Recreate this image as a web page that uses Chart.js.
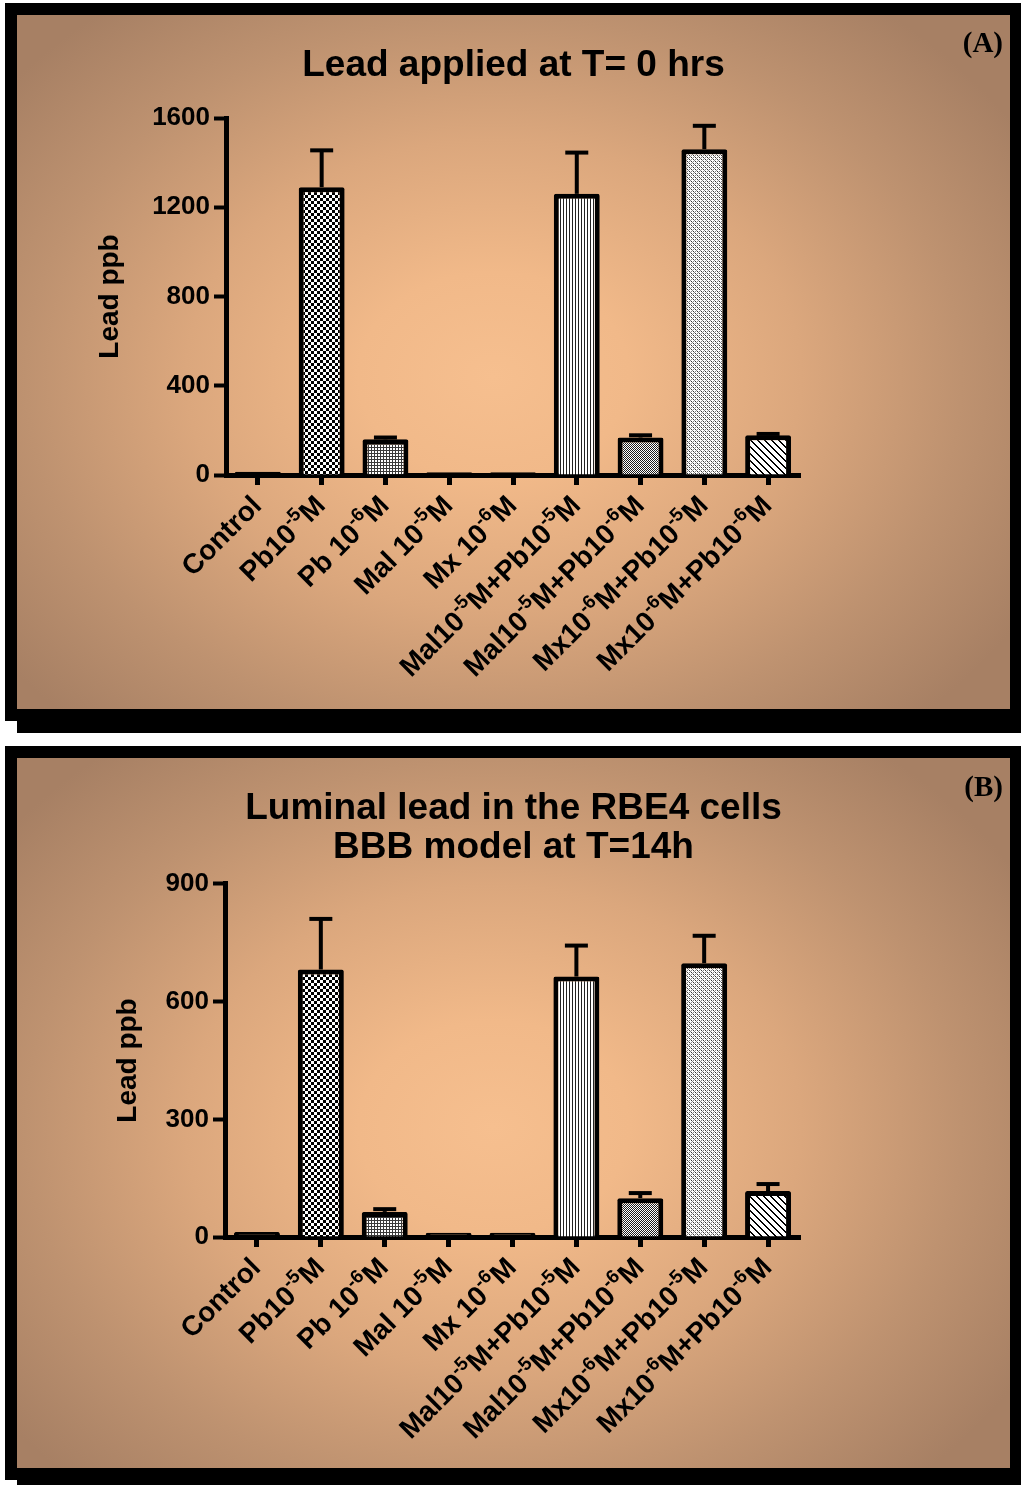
<!DOCTYPE html>
<html>
<head>
<meta charset="utf-8">
<script src="https://cdn.jsdelivr.net/npm/chart.js@4.4.1/dist/chart.umd.min.js"></script>
<style>
  html, body { margin: 0; padding: 0; background: #fff; }
  body { position: relative; width: 1021px; height: 1485px; overflow: hidden; }
  .blk { position: absolute; background: #000; }
  .panel {
    position: absolute; left: 17px; width: 993px; overflow: hidden;
    background-color: #a57e62;
    background-image: radial-gradient(ellipse 62% 68% at 48% 52%, #f6bf8f 0%, #f1b989 22%, #dba77d 50%, #be9270 76%, #a78064 100%);
  }
  .panel canvas { position: absolute; left: 0; top: 0; }
  .tag { position: absolute; right: 7px; font: bold 29px "Liberation Serif", "Times New Roman", serif; line-height: 29px; color: #000; }
</style>
</head>
<body>
<!-- panel (A) frame with drop shadow -->
<div class="blk" style="left:5px;top:3px;width:1016px;height:718px"></div>
<div class="blk" style="left:17px;top:15px;width:1004px;height:718px"></div>
<div class="panel" style="top:15px;height:694px">
  <canvas id="chartT0" width="993" height="694"></canvas>
  <div class="tag" style="top:13px">(A)</div>
</div>
<!-- panel (B) frame with drop shadow -->
<div class="blk" style="left:5px;top:746px;width:1016px;height:734px"></div>
<div class="blk" style="left:17px;top:758px;width:1004px;height:734px"></div>
<div class="panel" style="top:758px;height:710px">
  <canvas id="chartT14" width="993" height="710"></canvas>
  <div class="tag" style="top:14px">(B)</div>
</div>

<script>
// Treatment groups (exponents written with Unicode superscripts)
const categories = [
  'Control', 'Pb10⁻⁵M', 'Pb 10⁻⁶M', 'Mal 10⁻⁵M', 'Mx 10⁻⁶M',
  'Mal10⁻⁵M+Pb10⁻⁵M', 'Mal10⁻⁵M+Pb10⁻⁶M', 'Mx10⁻⁶M+Pb10⁻⁵M', 'Mx10⁻⁶M+Pb10⁻⁶M'
];

// Lead (ppb), lead applied at T = 0 h
const leadT0 = [15, 1290, 160, 12, 12, 1260, 168, 1460, 178];
const leadT0Err = [0, 165, 8, 0, 0, 185, 10, 105, 6];

// Luminal lead (ppb), RBE4 BBB model at T = 14 h
const leadT14 = [13, 682, 64, 11, 11, 664, 99, 698, 117];
const leadT14Err = [0, 129, 7, 0, 0, 79, 13, 70, 18];

// Y-axis tick values
const ticksT0 = [0, 400, 800, 1200, 1600];
const ticksT14 = [0, 300, 600, 900];

const titleT0 = ['Lead applied at T= 0 hrs'];
const titleT14 = ['Luminal lead in the RBE4 cells', 'BBB model at T=14h'];
const yTitle = 'Lead ppb';

const FONT = '"Liberation Sans", Arial, Helvetica, sans-serif';

// ---- hatch / dither fills -------------------------------------------------
function tile(ctx, w, h, paint) {
  const c = document.createElement('canvas');
  c.width = w; c.height = h;
  const g = c.getContext('2d');
  g.fillStyle = '#fff';
  g.fillRect(0, 0, w, h);
  paint(g);
  return ctx.createPattern(c, 'repeat');
}
function px(g, color, pts) {
  g.fillStyle = color;
  pts.forEach(([x, y, w, h]) => g.fillRect(x, y, w || 1, h || 1));
}
function makeFills(ctx) {
  const checker = tile(ctx, 6, 6, g => px(g, '#000', [[0, 0, 3, 3], [3, 3, 3, 3]]));
  const mesh = tile(ctx, 3, 3, g => px(g, '#3a3a3a', [[0, 0, 3, 1], [0, 0, 1, 3]]));
  const vlines = tile(ctx, 3, 1, g => px(g, '#222', [[0, 0, 1, 1]]));
  const darkDither = tile(ctx, 2, 2, g => px(g, '#1e1e1e', [[0, 0], [1, 1]]));
  const lightDither = tile(ctx, 4, 4, g => {
    px(g, '#333', [[0, 0], [2, 2]]);
    px(g, '#888', [[1, 1], [3, 3], [2, 0], [0, 2]]);
  });
  const diag = tile(ctx, 7, 7, g => {
    const pts = [];
    for (let i = 0; i < 7; i++) { pts.push([i, i]); pts.push([(i + 1) % 7, i]); }
    px(g, '#000', pts);
  });
  // near-zero groups render as a solid black sliver
  return ['#000', checker, mesh, '#000', '#000', vlines, darkDither, lightDither, diag];
}

// ---- error bars (upper SEM whisker with cap) --------------------------------
const errorBars = {
  id: 'errorBars',
  afterDatasetsDraw(chart, args, opts) {
    const { ctx } = chart;
    const y = chart.scales.y;
    const vals = chart.data.datasets[0].data;
    const meta = chart.getDatasetMeta(0);
    ctx.save();
    ctx.strokeStyle = '#000';
    ctx.lineWidth = 4;
    meta.data.forEach((bar, i) => {
      const e = opts.errors[i];
      if (!e) return;
      const yTop = y.getPixelForValue(vals[i] + e);
      ctx.beginPath();
      ctx.moveTo(bar.x, bar.y);
      ctx.lineTo(bar.x, yTop);
      ctx.stroke();
      ctx.beginPath();
      ctx.moveTo(bar.x - 11.5, yTop);
      ctx.lineTo(bar.x + 11.5, yTop);
      ctx.stroke();
    });
    ctx.restore();
  }
};

// ---- rotated category labels with superscripts ------------------------------
const SUP = { '⁻': '-', '⁰': '0', '¹': '1', '²': '2', '³': '3', '⁴': '4', '⁵': '5', '⁶': '6', '⁷': '7', '⁸': '8', '⁹': '9' };
function splitRuns(label) {
  const runs = [];
  for (const ch of label) {
    const sup = ch in SUP;
    const t = sup ? SUP[ch] : ch;
    const last = runs[runs.length - 1];
    if (last && last.sup === sup) last.text += t;
    else runs.push({ text: t, sup });
  }
  return runs;
}
const angledLabels = {
  id: 'angledLabels',
  afterDraw(chart, args, opts) {
    const { ctx } = chart;
    const xs = chart.scales.x;
    const fs = opts.size;
    const mainFont = `bold ${fs}px ${FONT}`;
    const supFont = `bold ${Math.round(fs * 0.68)}px ${FONT}`;
    ctx.save();
    ctx.fillStyle = '#000';
    ctx.textBaseline = 'alphabetic';
    ctx.textAlign = 'left';
    chart.data.labels.forEach((lab, i) => {
      const runs = splitRuns(lab);
      let total = 0;
      runs.forEach(r => {
        ctx.font = r.sup ? supFont : mainFont;
        r.w = ctx.measureText(r.text).width;
        total += r.w;
      });
      ctx.save();
      ctx.translate(xs.getPixelForTick(i) + opts.dx, xs.top + opts.dy);
      ctx.rotate(-Math.PI / 4);
      let x = -total;
      const base = fs * 0.36;
      runs.forEach(r => {
        ctx.font = r.sup ? supFont : mainFont;
        ctx.fillText(r.text, x, r.sup ? base - fs * 0.42 : base);
        x += r.w;
      });
      ctx.restore();
    });
    ctx.restore();
  }
};

function buildChart(canvasId, values, errors, yTicks, title, geom) {
  const canvas = document.getElementById(canvasId);
  const ctx = canvas.getContext('2d');
  return new Chart(ctx, {
    type: 'bar',
    data: {
      labels: categories,
      datasets: [{
        data: values,
        backgroundColor: makeFills(ctx),
        borderColor: '#000',
        borderWidth: 5,
        borderRadius: 2,
        borderSkipped: 'start',
        barPercentage: 0.72,
        categoryPercentage: 1,
        yAxisID: 'y'
      }]
    },
    options: {
      responsive: false,
      animation: false,
      layout: { padding: 0 },
      plugins: {
        legend: { display: false },
        tooltip: { enabled: false },
        title: {
          display: true,
          text: title,
          color: '#000',
          font: { family: FONT, size: 37, weight: 'bold', lineHeight: 39 / 37 },
          padding: { top: geom.titleTop, bottom: geom.titleBottom }
        },
        errorBars: { errors },
        angledLabels: { size: 28, dx: -2, dy: 25 }
      },
      scales: {
        x: {
          afterFit: s => { s.height = geom.xHeight; },
          grid: { display: true, drawOnChartArea: false, offset: false, drawTicks: true, tickLength: 10, tickWidth: 5, tickColor: '#000' },
          border: { display: true, color: '#000', width: 5 },
          ticks: { display: false }
        },
        y: {
          min: 0,
          max: yTicks[yTicks.length - 1],
          afterBuildTicks: s => { s.ticks = yTicks.map(v => ({ value: v })); },
          afterFit: s => { s.width = geom.yWidth; },
          grid: { display: true, drawOnChartArea: false, drawTicks: true, tickLength: 12, tickWidth: 4, tickColor: '#000' },
          border: { display: true, color: '#000', width: 5 },
          ticks: { color: '#000', padding: 4, font: { family: FONT, size: 26, weight: 'bold' }, callback: v => String(v) },
          title: {
            display: true, text: yTitle, color: '#000',
            font: { family: FONT, size: 28, weight: 'bold', lineHeight: 1 },
            padding: { top: geom.yTitleOffset, bottom: 0 }
          }
        },
        // empty right-hand margin so the plot sits left of centre
        margin: {
          type: 'linear', position: 'right', display: true,
          afterFit: s => { s.width = geom.rightMargin; },
          grid: { display: false }, border: { display: false }, ticks: { display: false }
        }
      }
    },
    plugins: [errorBars, angledLabels]
  });
}

buildChart('chartT0', leadT0, leadT0Err, ticksT0, titleT0,
  { yWidth: 209, yTitleOffset: 79, rightMargin: 210, xHeight: 234, titleTop: 31, titleBottom: 33 });
buildChart('chartT14', leadT14, leadT14Err, ticksT14, titleT14,
  { yWidth: 208, yTitleOffset: 97, rightMargin: 210, xHeight: 231, titleTop: 31, titleBottom: 17 });
</script>
</body>
</html>
